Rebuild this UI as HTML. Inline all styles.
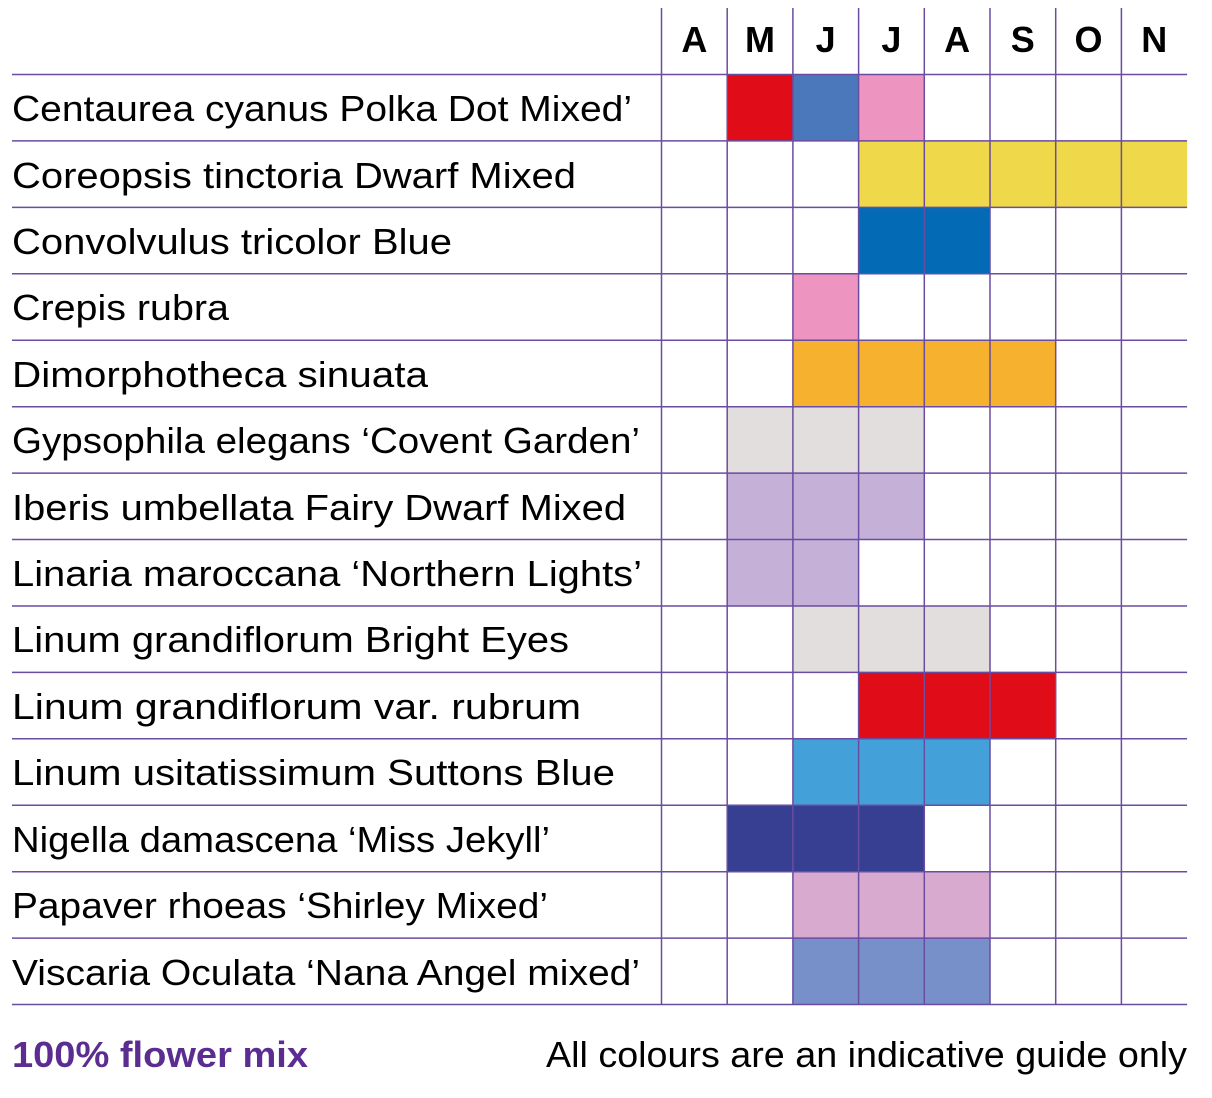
<!DOCTYPE html>
<html><head><meta charset="utf-8"><style>html,body{margin:0;padding:0;background:#fff}svg{display:block}</style></head>
<body>
<svg width="1212" height="1098" viewBox="0 0 1212 1098" xmlns="http://www.w3.org/2000/svg" font-family="Liberation Sans, DejaVu Sans, sans-serif">
<g id="fills">
<rect x="727.2" y="74.5" width="65.7" height="66.4" fill="#e00d19"/>
<rect x="792.9" y="74.5" width="65.7" height="66.4" fill="#4a78bb"/>
<rect x="858.6" y="74.5" width="65.7" height="66.4" fill="#ed94c0"/>
<rect x="858.6" y="140.9" width="328.5" height="66.5" fill="#efd84a"/>
<rect x="858.6" y="207.4" width="131.4" height="66.4" fill="#036bb6"/>
<rect x="792.9" y="273.8" width="65.7" height="66.4" fill="#ed94c0"/>
<rect x="792.9" y="340.2" width="262.8" height="66.5" fill="#f6b12e"/>
<rect x="727.2" y="406.7" width="197.1" height="66.4" fill="#e2dedd"/>
<rect x="727.2" y="473.1" width="197.1" height="66.4" fill="#c5b0d8"/>
<rect x="727.2" y="539.5" width="131.4" height="66.5" fill="#c5b0d8"/>
<rect x="792.9" y="606" width="197.1" height="66.4" fill="#e2dedd"/>
<rect x="858.6" y="672.4" width="197.1" height="66.4" fill="#e00d19"/>
<rect x="792.9" y="738.8" width="197.1" height="66.4" fill="#44a0d9"/>
<rect x="727.2" y="805.2" width="197.1" height="66.5" fill="#373f92"/>
<rect x="792.9" y="871.7" width="197.1" height="66.4" fill="#d9aad0"/>
<rect x="792.9" y="938.1" width="197.1" height="66.4" fill="#7790c9"/>
</g>
<g stroke="#6a4ca0" stroke-width="1.5">
<line x1="661.5" y1="8" x2="661.5" y2="1004.5"/>
<line x1="727.2" y1="8" x2="727.2" y2="1004.5"/>
<line x1="792.9" y1="8" x2="792.9" y2="1004.5"/>
<line x1="858.6" y1="8" x2="858.6" y2="1004.5"/>
<line x1="924.3" y1="8" x2="924.3" y2="1004.5"/>
<line x1="990" y1="8" x2="990" y2="1004.5"/>
<line x1="1055.7" y1="8" x2="1055.7" y2="1004.5"/>
<line x1="1121.4" y1="8" x2="1121.4" y2="1004.5"/>
<line x1="12" y1="74.5" x2="1187.1" y2="74.5"/>
<line x1="12" y1="140.9" x2="1187.1" y2="140.9"/>
<line x1="12" y1="207.4" x2="1187.1" y2="207.4"/>
<line x1="12" y1="273.8" x2="1187.1" y2="273.8"/>
<line x1="12" y1="340.2" x2="1187.1" y2="340.2"/>
<line x1="12" y1="406.7" x2="1187.1" y2="406.7"/>
<line x1="12" y1="473.1" x2="1187.1" y2="473.1"/>
<line x1="12" y1="539.5" x2="1187.1" y2="539.5"/>
<line x1="12" y1="606" x2="1187.1" y2="606"/>
<line x1="12" y1="672.4" x2="1187.1" y2="672.4"/>
<line x1="12" y1="738.8" x2="1187.1" y2="738.8"/>
<line x1="12" y1="805.2" x2="1187.1" y2="805.2"/>
<line x1="12" y1="871.7" x2="1187.1" y2="871.7"/>
<line x1="12" y1="938.1" x2="1187.1" y2="938.1"/>
<line x1="12" y1="1004.5" x2="1187.1" y2="1004.5"/>
</g>
<g font-weight="bold" font-size="36" text-anchor="middle" fill="#000">
<text x="694.4" y="52">A</text><text x="760" y="52">M</text><text x="825.7" y="52">J</text><text x="891.4" y="52">J</text>
<text x="957.1" y="52">A</text><text x="1022.8" y="52">S</text><text x="1088.5" y="52">O</text><text x="1154.2" y="52">N</text>
</g>
<g font-size="36" fill="#000">
<text x="12" y="121" textLength="620" lengthAdjust="spacingAndGlyphs">Centaurea cyanus Polka Dot Mixed’</text>
<text x="12" y="188" textLength="564" lengthAdjust="spacingAndGlyphs">Coreopsis tinctoria Dwarf Mixed</text>
<text x="12" y="254" textLength="440" lengthAdjust="spacingAndGlyphs">Convolvulus tricolor Blue</text>
<text x="12" y="320" textLength="217" lengthAdjust="spacingAndGlyphs">Crepis rubra</text>
<text x="12" y="387" textLength="416" lengthAdjust="spacingAndGlyphs">Dimorphotheca sinuata</text>
<text x="12" y="453" textLength="628" lengthAdjust="spacingAndGlyphs">Gypsophila elegans ‘Covent Garden’</text>
<text x="12" y="520" textLength="614" lengthAdjust="spacingAndGlyphs">Iberis umbellata Fairy Dwarf Mixed</text>
<text x="12" y="586" textLength="630" lengthAdjust="spacingAndGlyphs">Linaria maroccana ‘Northern Lights’</text>
<text x="12" y="652" textLength="557" lengthAdjust="spacingAndGlyphs">Linum grandiflorum Bright Eyes</text>
<text x="12" y="719" textLength="569" lengthAdjust="spacingAndGlyphs">Linum grandiflorum var. rubrum</text>
<text x="12" y="785" textLength="603" lengthAdjust="spacingAndGlyphs">Linum usitatissimum Suttons Blue</text>
<text x="12" y="852" textLength="538" lengthAdjust="spacingAndGlyphs">Nigella damascena ‘Miss Jekyll’</text>
<text x="12" y="918" textLength="536" lengthAdjust="spacingAndGlyphs">Papaver rhoeas ‘Shirley Mixed’</text>
<text x="12" y="985" textLength="628" lengthAdjust="spacingAndGlyphs">Viscaria Oculata ‘Nana Angel mixed’</text>
</g>
<text x="12" y="1067" font-size="36" font-weight="bold" fill="#5b2d91" textLength="296" lengthAdjust="spacingAndGlyphs">100% flower mix</text>
<text x="546" y="1067" font-size="36" fill="#000" textLength="641" lengthAdjust="spacingAndGlyphs">All colours are an indicative guide only</text>
</svg>
</body></html>
